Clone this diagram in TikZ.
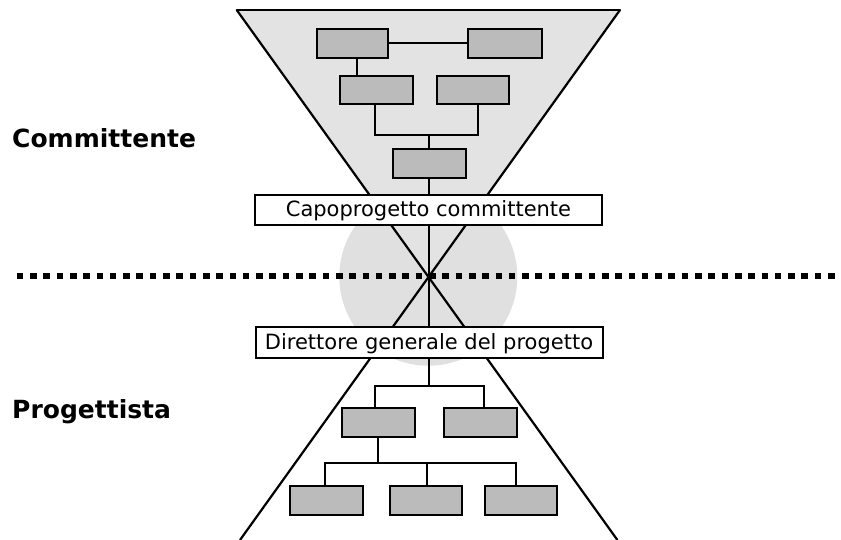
\documentclass[tikz,border=0pt]{standalone}
\usepackage{fontspec}
\setmainfont{DejaVu Sans}
\definecolor{conegray}{HTML}{E3E3E3}
\definecolor{circgray}{HTML}{E0E0E0}
\definecolor{boxgray}{HTML}{BBBBBB}
\begin{document}
\begin{tikzpicture}[x=1pt,y=-1pt,
  orgbox/.style={draw=black, fill=boxgray, line width=2pt, minimum width=72.5pt, minimum height=28.5pt, inner sep=0pt},
  rolebox/.style={draw=black, fill=white, line width=2pt, minimum width=347pt, minimum height=30pt, inner sep=0pt,
    font=\fontsize{21}{25}\selectfont, text height=14pt, text depth=1pt},
  conn/.style={draw=black, line width=2pt},
  coneline/.style={draw=black, line width=2.2pt},
  dotline/.style={draw=black, line width=6.6pt, dash pattern=on 6.6pt off 6.7pt},
  side/.style={anchor=base west, inner sep=0pt, font=\fontsize{25}{30}\selectfont\bfseries}]
\useasboundingbox (0,0) rectangle (841,540);
% geometry
\coordinate (X) at (428.3,276.7);
\coordinate (TL) at (236.7,10);
\coordinate (TR) at (620,10);
\coordinate (BL) at (240,540);
\coordinate (BR) at (617.4,540);
% fills
\fill[circgray] (X) circle (89);
\fill[conegray] (TL) -- (TR) -- (X) -- cycle;
% cone lines
\draw[coneline, line cap=round] (TL) -- (TR);
\draw[coneline] (TL) -- (BR);
\draw[coneline] (TR) -- (BL);
% dotted separator
\coordinate (DL) at (16.7,276);
\coordinate (DR) at (841,276);
\draw[dotline] (DL) -- (DR);
% side labels
\node[side] (comm) at (12,147.3) {Committente};
\node[side] (prog) at (12,418.3) {Progettista};
% top org chart
\node[orgbox, minimum width=71pt] (A) at (352.5,43.5) {};
\node[orgbox, minimum width=73.5pt] (B) at (505,43.5) {};
\node[orgbox] (C) at (376.5,90) {};
\node[orgbox] (D) at (473,90) {};
\node[orgbox] (E) at (429.3,163.5) {};
\node[rolebox] (cap) at (428.5,210) {Capoprogetto committente};
\node[rolebox, minimum height=31pt] (dir) at (429,342.5) {Direttore generale del progetto};
% bottom org chart
\node[orgbox, minimum width=73pt, minimum height=29pt] (F) at (378.5,422.3) {};
\node[orgbox, minimum width=73pt, minimum height=29pt] (G) at (480.7,422.3) {};
\node[orgbox, minimum height=29pt] (H) at (326.3,500.5) {};
\node[orgbox, minimum height=29pt] (I) at (425.8,500.5) {};
\node[orgbox, minimum height=29pt] (J) at (521,500.5) {};
% connectors top
\coordinate (j1) at (429.3,135);
\draw[conn] (A.east) -- (B.west);
\draw[conn] ([xshift=4pt]A.south) -- ([xshift=4pt]A.south |- C.north);
\draw[conn] ([xshift=-1.5pt]C.south) |- (j1) -| ([xshift=5.3pt]D.south);
\draw[conn] (j1) -- (E.north);
\draw[conn] (E.south) -- (E.south |- cap.north);
\draw[conn] (cap.south -| E.south) -- (dir.north -| E.south);
% connectors bottom
\coordinate (j2) at (429.3,386);
\coordinate (j3) at (377.7,462.7);
\draw[conn] (dir.south -| j2) -- (j2);
\draw[conn] ([xshift=-3.5pt]F.north) |- (j2) -| ([xshift=3.3pt]G.north);
\draw[conn] (F.south -| j3) -- (j3);
\draw[conn] ([xshift=-1.3pt]H.north) |- (j3) -| ([xshift=-5pt]J.north);
\draw[conn] ([xshift=0.9pt]I.north) -- ([xshift=0.9pt]I.north |- j3);
\end{tikzpicture}
\end{document}
